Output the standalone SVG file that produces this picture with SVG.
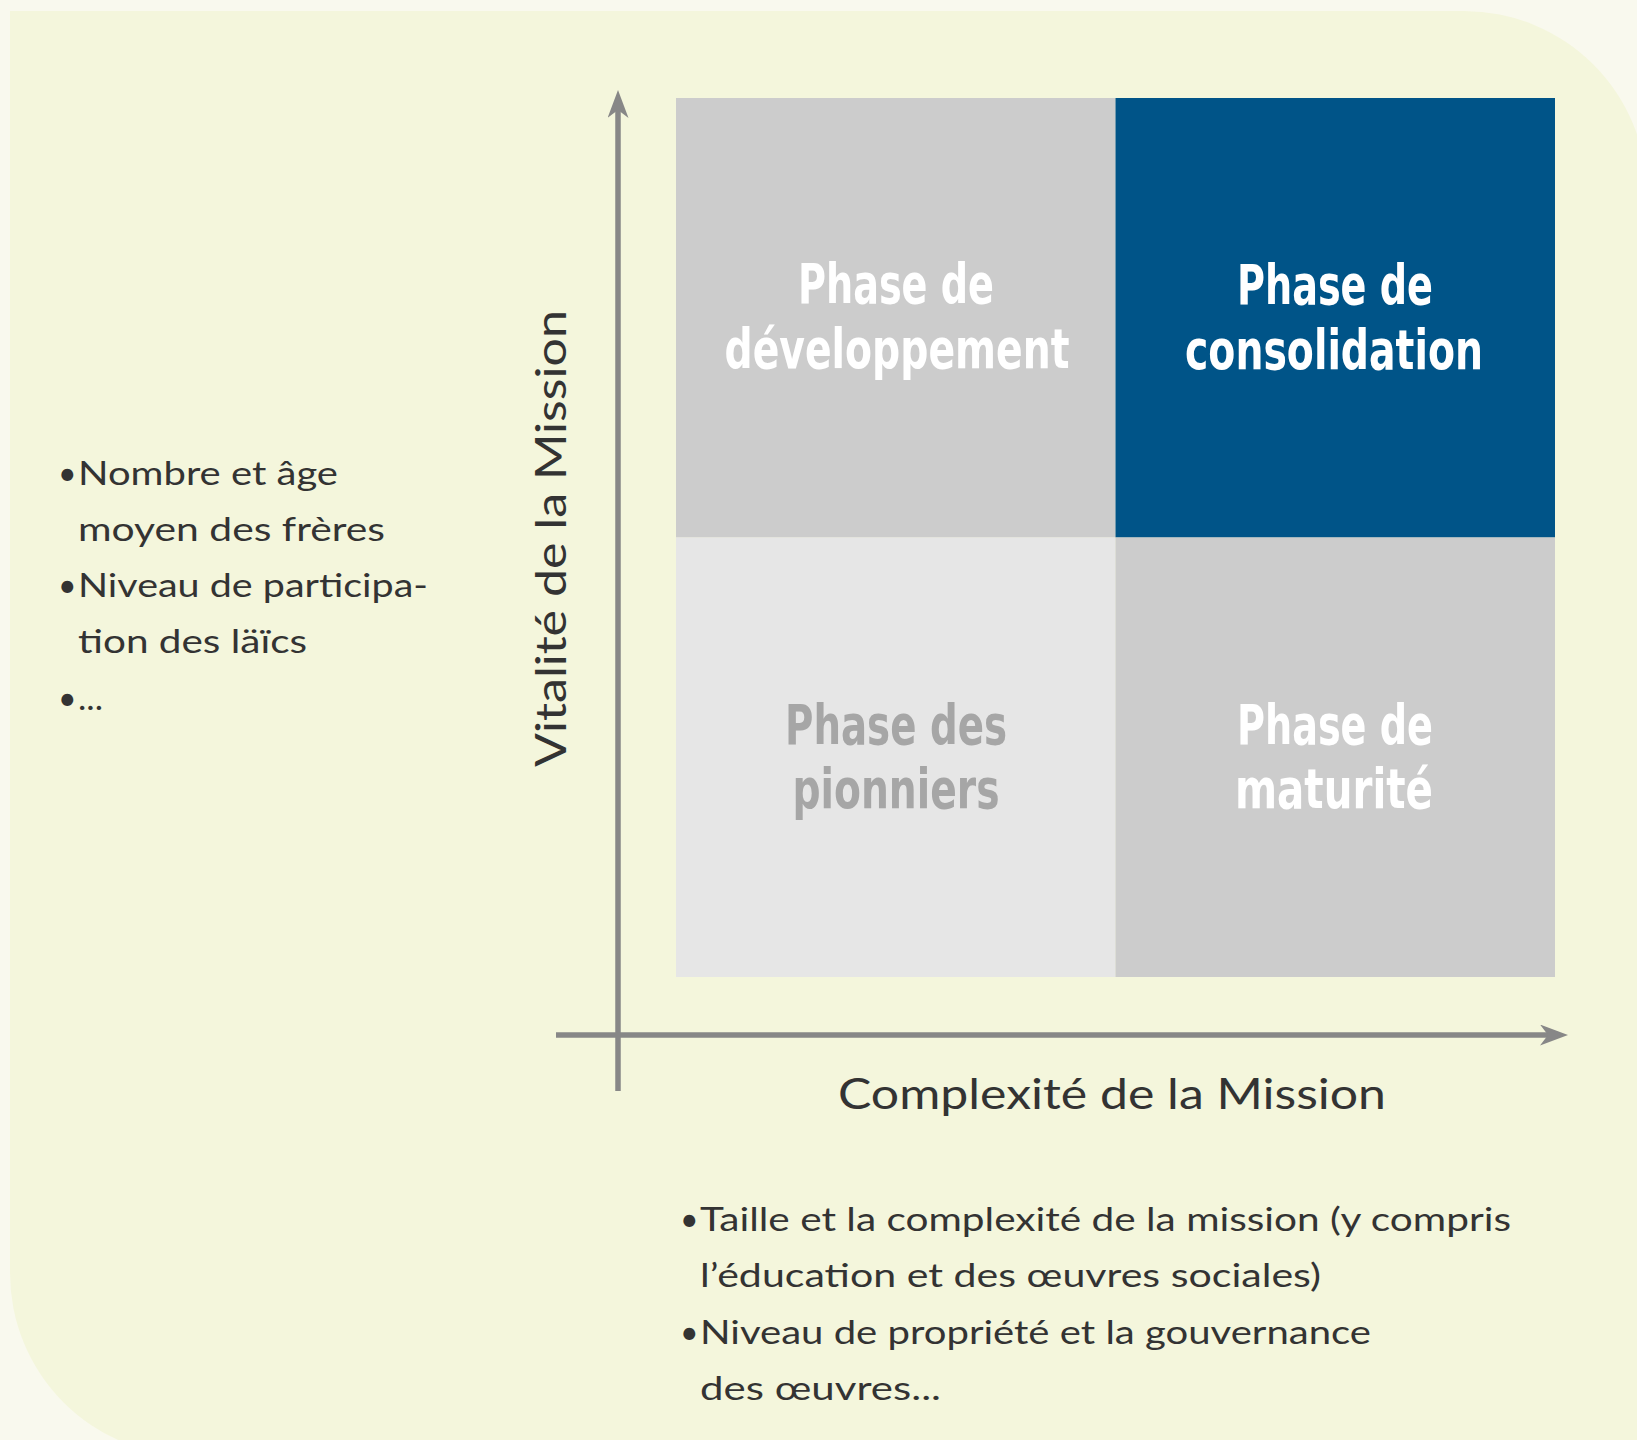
<svg xmlns="http://www.w3.org/2000/svg" width="1637" height="1440" viewBox="0 0 1637 1440">
<style>
.title{font-family:'Liberation Sans Narrow','DejaVu Sans Condensed','Liberation Sans',sans-serif;font-weight:bold;font-size:56px;text-anchor:middle;fill:#ffffff}
.muted{fill:#a6a6a6}
.body{font-family:Lato,'Open Sans','Liberation Sans',sans-serif;font-size:32px;fill:#333333}
.axislabel{font-family:Lato,'Open Sans','Liberation Sans',sans-serif;font-size:43px;fill:#333333}
.axis{stroke:#878787;stroke-width:5.5;fill:none}
</style>
<defs>
<marker id="arrow" viewBox="0 0 28 21" markerWidth="28" markerHeight="21" markerUnits="userSpaceOnUse" refX="8" refY="10.5" orient="auto">
<path d="M0,0 L28,10.5 L0,21 L8,10.5 Z" fill="#878787"/>
</marker>
</defs>
<rect x="0" y="0" width="1637" height="1440" fill="#f9f9ee"/>
<path d="M10 11 H1464 A183 183 0 0 1 1647 194 V1456 H193 A183 183 0 0 1 10 1273 Z" fill="#f4f6dc"/>

<g id="q-developpement">
<rect x="676" y="98" width="439.5" height="439.5" fill="#cccccc"/>
<text class="title" x="896" y="303" textLength="196" lengthAdjust="spacingAndGlyphs">Phase de</text>
<text class="title" x="897" y="368" textLength="345" lengthAdjust="spacingAndGlyphs">développement</text>
</g>
<g id="q-consolidation">
<rect x="1115.5" y="98" width="439.5" height="439.5" fill="#005488"/>
<text class="title" x="1335" y="304" textLength="196" lengthAdjust="spacingAndGlyphs">Phase de</text>
<text class="title" x="1334" y="369" textLength="298" lengthAdjust="spacingAndGlyphs">consolidation</text>
</g>
<g id="q-pionniers">
<rect x="676" y="537.5" width="439.5" height="439.5" fill="#e6e6e6"/>
<text class="title muted" x="896" y="744" textLength="222" lengthAdjust="spacingAndGlyphs">Phase des</text>
<text class="title muted" x="896" y="808" textLength="207" lengthAdjust="spacingAndGlyphs">pionniers</text>
</g>
<g id="q-maturite">
<rect x="1115.5" y="537.5" width="439.5" height="439.5" fill="#cccccc"/>
<text class="title" x="1335" y="744" textLength="196" lengthAdjust="spacingAndGlyphs">Phase de</text>
<text class="title" x="1334" y="808" textLength="198" lengthAdjust="spacingAndGlyphs">maturité</text>
</g>

<g id="connectors">
<line class="axis" x1="618" y1="1091" x2="618" y2="110" marker-end="url(#arrow)"/>
<line class="axis" x1="556" y1="1035" x2="1548" y2="1035" marker-end="url(#arrow)"/>
</g>

<g id="label-vitalite">
<text class="axislabel" transform="translate(566,767) rotate(-90)" x="0" y="0" textLength="457" lengthAdjust="spacingAndGlyphs">Vitalité de la Mission</text>
</g>
<g id="label-complexite">
<text class="axislabel" x="838" y="1109" textLength="548" lengthAdjust="spacingAndGlyphs">Complexité de la Mission</text>
</g>

<g id="list-vitalite" class="body">
<text x="58" y="485">•<tspan x="78" textLength="260" lengthAdjust="spacingAndGlyphs">Nombre et âge</tspan></text>
<text x="78" y="541" textLength="307" lengthAdjust="spacingAndGlyphs">moyen des frères</text>
<text x="58" y="597">•<tspan x="78" textLength="350" lengthAdjust="spacingAndGlyphs">Niveau de participa-</tspan></text>
<text x="78" y="653" textLength="229" lengthAdjust="spacingAndGlyphs">tion des läïcs</text>
<text x="58" y="710">•<tspan x="78" textLength="25" lengthAdjust="spacingAndGlyphs">...</tspan></text>
</g>

<g id="list-complexite" class="body">
<text x="680" y="1231">•<tspan x="700" textLength="811" lengthAdjust="spacingAndGlyphs">Taille et la complexité de la mission (y compris</tspan></text>
<text x="700" y="1287" textLength="621" lengthAdjust="spacingAndGlyphs">l’éducation et des œuvres sociales)</text>
<text x="680" y="1344">•<tspan x="700" textLength="671" lengthAdjust="spacingAndGlyphs">Niveau de propriété et la gouvernance</tspan></text>
<text x="700" y="1400" textLength="241" lengthAdjust="spacingAndGlyphs">des œuvres...</text>
</g>
</svg>
